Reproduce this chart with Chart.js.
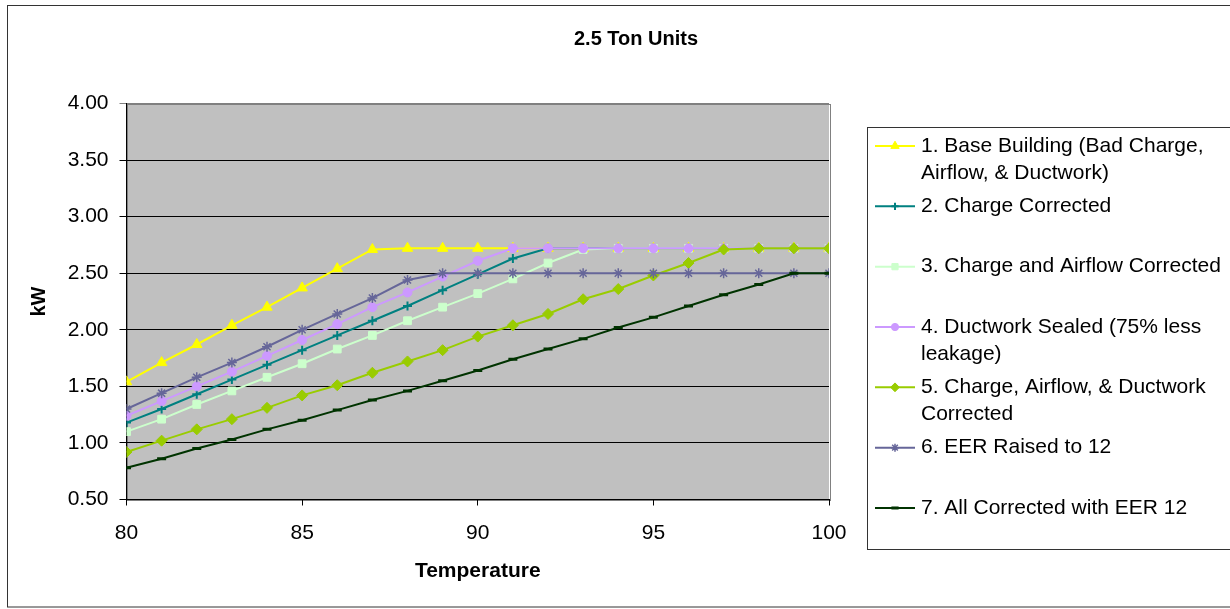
<!DOCTYPE html>
<html>
<head>
<meta charset="utf-8">
<script src="https://cdn.jsdelivr.net/npm/chart.js@4/dist/chart.umd.min.js"></script>
<style>
  html, body { margin: 0; padding: 0; background: #fff; }
  #wrap { width: 1230px; height: 609px; }
</style>
</head>
<body>
<div id="wrap"><canvas id="c" width="1230" height="609"></canvas></div>
<script>
// ---- Data ----
const chartTitle = "2.5 Ton Units";
const xTitle = "Temperature";
const yTitle = "kW";
const temperatures = [80,81,82,83,84,85,86,87,88,89,90,91,92,93,94,95,96,97,98,99,100];

const seriesNames = [
  "1. Base Building (Bad Charge, Airflow, & Ductwork)",
  "2. Charge Corrected",
  "3. Charge and Airflow Corrected",
  "4. Ductwork Sealed (75% less leakage)",
  "5. Charge, Airflow, & Ductwork Corrected",
  "6. EER Raised to 12",
  "7. All Corrected with EER 12"
];
const legendLines = [
  ["1. Base Building (Bad Charge,", "Airflow, & Ductwork)"],
  ["2. Charge Corrected"],
  ["3. Charge and Airflow Corrected"],
  ["4. Ductwork Sealed (75% less", "leakage)"],
  ["5. Charge, Airflow, & Ductwork", "Corrected"],
  ["6. EER Raised to 12"],
  ["7. All Corrected with EER 12"]
];

const baseBuilding      = [1.54,1.71,1.87,2.04,2.20,2.37,2.54,2.71,2.72,2.72,2.72,2.72,2.72,2.72,2.72,2.72,2.72,2.72,2.72,2.72,2.72];
const chargeCorrected   = [1.18,1.30,1.43,1.56,1.69,1.82,1.95,2.08,2.21,2.35,2.49,2.63,2.72,2.72,2.72,2.72,2.72,2.72,2.72,2.72,2.72];
const chargeAirflow     = [1.10,1.21,1.34,1.46,1.58,1.70,1.83,1.95,2.08,2.20,2.32,2.45,2.59,2.71,2.72,2.72,2.72,2.72,2.72,2.72,2.72];
const ductSealed        = [1.24,1.37,1.50,1.63,1.77,1.91,2.05,2.20,2.33,2.47,2.61,2.72,2.72,2.72,2.72,2.72,2.72,2.72,2.72,2.72,2.72];
const allThreeCorrected = [0.92,1.02,1.12,1.21,1.31,1.42,1.51,1.62,1.72,1.82,1.94,2.04,2.14,2.27,2.36,2.48,2.59,2.71,2.72,2.72,2.72];
const eerRaised         = [1.30,1.44,1.58,1.71,1.85,2.00,2.14,2.28,2.44,2.50,2.50,2.50,2.50,2.50,2.50,2.50,2.50,2.50,2.50,2.50,2.50];
const allCorrectedEER   = [0.78,0.86,0.95,1.03,1.12,1.20,1.29,1.38,1.46,1.55,1.64,1.74,1.83,1.92,2.02,2.11,2.21,2.31,2.40,2.50,2.50];

const seriesValues = [baseBuilding, chargeCorrected, chargeAirflow, ductSealed, allThreeCorrected, eerRaised, allCorrectedEER];

const yTicks = [0.5,1.0,1.5,2.0,2.5,3.0,3.5,4.0];
const xTicks = [80,85,90,95,100];

// ---- Styles ----
const seriesColors = ["#FFFF00","#008080","#CCFFCC","#CC99FF","#99CC00","#666699","#003300"];
const seriesStyles = ["triangle","cross","rect","circle","rectRot","star","line"];
const seriesRadius = [6,4.5,5.5,4.5,5.5,5,4.5];
const seriesPtBorder = [1,2,1,1,1,1.5,3];

const FONT = '"Liberation Sans", Arial, Helvetica, sans-serif';
Chart.defaults.font.family = FONT;
Chart.defaults.font.size = 21;
Chart.defaults.color = '#000';

const datasets = seriesNames.map((name, i) => ({
  label: name,
  data: temperatures.map((t, j) => ({x: t, y: seriesValues[i][j]})),
  borderColor: seriesColors[i],
  backgroundColor: seriesColors[i],
  pointBackgroundColor: seriesColors[i],
  pointBorderColor: seriesColors[i],
  pointStyle: seriesStyles[i],
  pointRadius: seriesRadius[i],
  pointBorderWidth: seriesPtBorder[i],
  borderWidth: 2,
  tension: 0,
  fill: false,
  order: seriesNames.length - i
}));

const plotBg = {
  id: 'plotBg',
  beforeDraw(chart) {
    const {ctx, chartArea: a} = chart;
    ctx.save();
    ctx.fillStyle = '#FFFFFF';
    ctx.fillRect(0, 0, chart.width, chart.height);
    // outer chart border
    ctx.strokeStyle = '#333';
    ctx.lineWidth = 1;
    ctx.strokeRect(7.5, 5.5, 1400, 601.5);
    // plot area
    ctx.fillStyle = '#C0C0C0';
    ctx.fillRect(a.left, a.top, a.right - a.left, a.bottom - a.top);
    ctx.strokeStyle = '#808080';
    ctx.strokeRect(Math.round(a.left) + 0.5, Math.round(a.top) + 0.5, Math.round(a.right - a.left), Math.round(a.bottom - a.top));
    ctx.restore();
  },
  afterLayout(chart) {
    const t = chart.titleBlock;
    if (t) {
      const cx = 636, w = 400;
      t.left = cx - w / 2; t.right = cx + w / 2; t.width = w;
    }
  }
};

const customLegend = {
  id: 'customLegend',
  afterDraw(chart) {
    const ctx = chart.ctx;
    const H = Chart.helpers || {};
    ctx.save();
    ctx.strokeStyle = '#333';
    ctx.lineWidth = 1;
    ctx.strokeRect(867.5, 127.5, 500, 422);
    ctx.font = '21px ' + FONT;
    ctx.textBaseline = 'middle';
    ctx.textAlign = 'left';
    chart.data.datasets.forEach((ds, i) => {
      const y = 146 + i * 60.33;
      ctx.strokeStyle = ds.borderColor;
      ctx.lineWidth = 2;
      ctx.beginPath();
      ctx.moveTo(875, y); ctx.lineTo(915, y);
      ctx.stroke();
      ctx.fillStyle = ds.pointBackgroundColor;
      ctx.strokeStyle = ds.pointBorderColor;
      ctx.lineWidth = ds.pointBorderWidth;
      if (H.drawPoint) {
        H.drawPoint(ctx, {pointStyle: ds.pointStyle, rotation: 0, radius: ds.pointRadius * 0.8, borderWidth: ds.pointBorderWidth}, 895, y);
      }
      ctx.fillStyle = '#000';
      legendLines[i].forEach((line, j) => ctx.fillText(line, 921, y + j * 27));
    });
    ctx.restore();
  }
};

new Chart(document.getElementById('c'), {
  type: 'line',
  data: { datasets },
  plugins: [plotBg, customLegend],
  options: {
    responsive: false,
    animation: false,
    devicePixelRatio: 1,
    layout: { padding: { left: 20, right: 401, top: 0, bottom: 0 } },
    plugins: {
      legend: { display: false },
      tooltip: { enabled: false },
      title: {
        display: true,
        text: chartTitle,
        color: '#000',
        font: { size: 20, weight: 'bold', family: FONT },
        padding: { top: 27, bottom: 52.5 }
      }
    },
    scales: {
      x: {
        type: 'linear',
        min: 80, max: 100,
        afterFit(s) { s.height = 109.5; },
        afterBuildTicks(s) { s.ticks = xTicks.map(v => ({value: v})); },
        ticks: { padding: 15, color: '#000', font: { size: 21 }, callback: v => String(v) },
        grid: { drawOnChartArea: false, drawTicks: true, tickLength: 6, color: '#000' },
        border: { display: true, color: '#000', width: 1 },
        title: { display: true, text: xTitle, color: '#000', font: { size: 21, weight: 'bold' }, padding: { top: 0, bottom: 25.4 } }
      },
      y: {
        type: 'linear',
        min: 0.5, max: 4.0,
        afterFit(s) { s.width = 106.5; },
        afterBuildTicks(s) { s.ticks = yTicks.map(v => ({value: v})); },
        ticks: { padding: 11, color: '#000', font: { size: 21 }, callback: v => Number(v).toFixed(2) },
        grid: {
          drawTicks: true, tickLength: 7, lineWidth: 1,
          color: c => (c.tick && c.tick.value === 4) ? '#808080' : '#000'
        },
        border: { display: true, color: '#000', width: 1 },
        title: { display: true, text: yTitle, color: '#000', font: { size: 20, weight: 'bold' }, padding: { top: 7, bottom: 0 } }
      }
    }
  }
});
</script>
</body>
</html>
